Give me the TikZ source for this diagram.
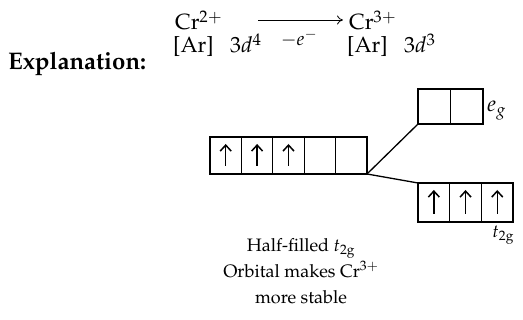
\documentclass[tikz,border=0pt]{standalone}
\usepackage[T1]{fontenc}
\usepackage{mathpazo}
\usetikzlibrary{arrows.meta}
\begin{document}
\begin{tikzpicture}[x=1pt,y=-1pt,
  orbL/.style={draw,line width=1.3pt,minimum width=31.4pt,minimum height=37pt,inner sep=0pt,outer sep=0pt},
  orbE/.style={orbL,minimum width=32.5pt,minimum height=35pt},
  orbT/.style={orbL,minimum width=31.7pt,minimum height=39pt},
  big/.style={font=\fontsize{22}{26}\selectfont,inner sep=0pt},
  txt/.style={font=\fontsize{18}{26}\selectfont,inner sep=0pt},
  lab/.style={font=\fontsize{22}{26}\selectfont,inner sep=0pt},
  spin/.style={line width=1.5pt,-{Straight Barb[length=6pt,width=11pt,line width=1.5pt]},shorten <=8pt,shorten >=7pt},
  link/.style={line width=1.3pt}]
\useasboundingbox (0,0) rectangle (523,320);
% header
\node[big,anchor=base west] (cr2) at (175,30) {Cr$^{2+}$};
\node[big,anchor=base west] (cr3) at (349,30) {Cr$^{3+}$};
\coordinate (a1) at (258,20);
\coordinate (a2) at (343,20);
\draw[line width=0.8pt,-{To[length=6pt,width=9pt]}] (a1) -- (a2);
\node[big,font=\fontsize{19}{22}\selectfont] (el) at (299,38) {$-e^{-}$};
\node[big,anchor=base west] (ar4) at (173,53) {[Ar]\hspace{0.75em}$3d^{4}$};
\node[big,anchor=base west] (ar3) at (347,53) {[Ar]\hspace{0.75em}$3d^{3}$};
\node[font=\fontsize{24}{28}\selectfont\bfseries,inner sep=0pt,anchor=base west] (expl) at (8,70) {Explanation:};
% left orbitals
\node[orbL,anchor=north west] (L1) at (210,137) {};
\node[orbL,anchor=west] (L2) at (L1.east) {};
\node[orbL,anchor=west] (L3) at (L2.east) {};
\node[orbL,anchor=west] (L4) at (L3.east) {};
\node[orbL,anchor=west] (L5) at (L4.east) {};
\foreach \n in {L1,L2,L3} \draw[spin] (\n.south) -- (\n.north);
% eg
\node[orbE,anchor=north west] (E1) at (418,89) {};
\node[orbE,anchor=west] (E2) at (E1.east) {};
\node[lab,anchor=west] (eg) at ([xshift=4pt,yshift=-4pt]E2.east) {$e_g$};
% t2g
\node[orbT,anchor=north west] (T1) at (418,183) {};
\node[orbT,anchor=west] (T2) at (T1.east) {};
\node[orbT,anchor=west] (T3) at (T2.east) {};
\foreach \n in {T1,T2,T3} \draw[spin] (\n.south) -- (\n.north);
\node[lab,font=\fontsize{18}{22}\selectfont,anchor=north east] (t2g) at ([xshift=1pt,yshift=-4pt]T3.south east) {$t_{2\mathrm{g}}$};
% connectors
\draw[link] (L5.south east) -- (E1.south west);
\draw[link] (L5.south east) -- (T1.north west);
% caption
\node[txt,align=center] (cap) at (301,271) {Half-filled $t_{2\mathrm{g}}$\\Orbital makes Cr$^{3+}$\\more stable};
\end{tikzpicture}
\end{document}
